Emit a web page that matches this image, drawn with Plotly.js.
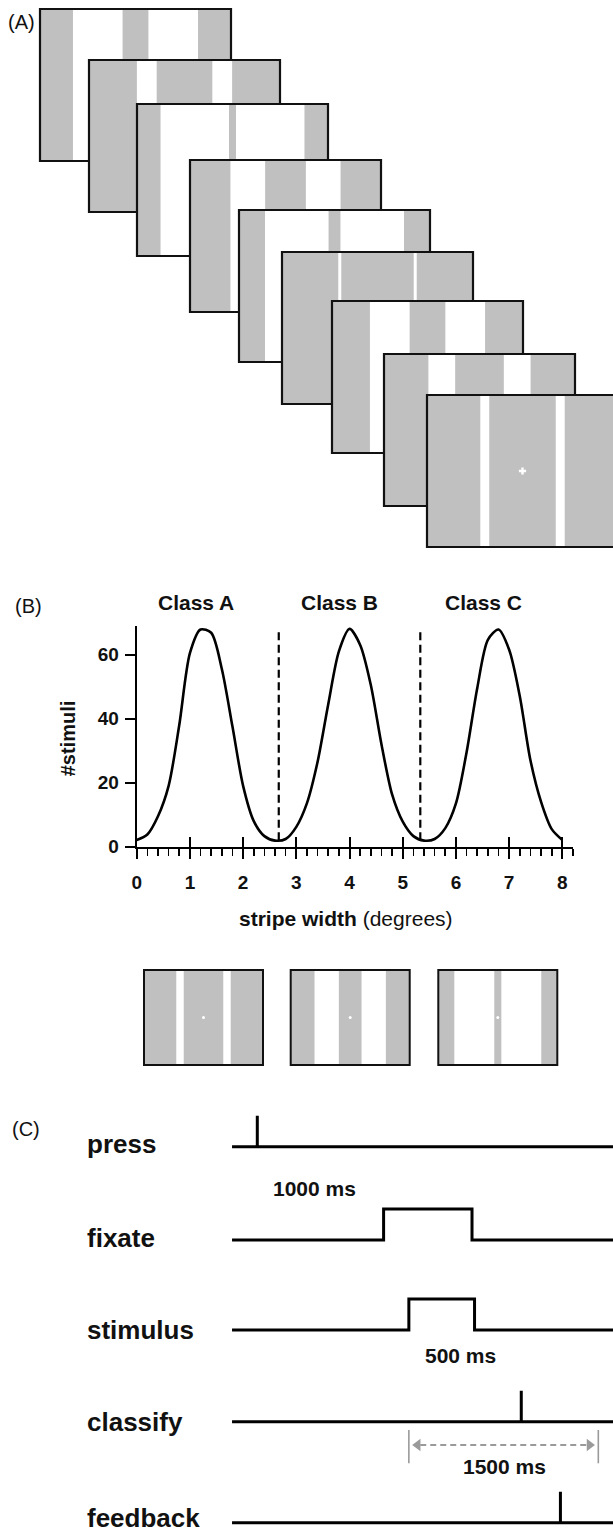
<!DOCTYPE html>
<html>
<head>
<meta charset="utf-8">
<script src="https://cdn.plot.ly/plotly-3.0.1.min.js"></script>
<style>
  html, body { margin: 0; padding: 0; background: #fff; }
  #chart { width: 613px; height: 1532px; }
</style>
</head>
<body>
<div id="chart"></div>
<script>
// ---------------- DATA ----------------
// Panel B: stimulus distribution
const stripeWidthDeg = [0, 0.2, 0.4, 0.6, 0.8, 1.0, 1.2, 1.4, 1.6, 1.8, 2.0, 2.2, 2.4, 2.6, 2.8,
  3.0, 3.2, 3.4, 3.6, 3.8, 4.0, 4.2, 4.4, 4.6, 4.8, 5.0, 5.2, 5.4, 5.6, 5.8,
  6.0, 6.2, 6.4, 6.6, 6.8, 7.0, 7.2, 7.4, 7.6, 7.8, 8.0];
const stimuliCount = [2.1, 3.8, 9.5, 19, 38, 60.4, 67.8, 66.8, 55.5, 37.5, 19, 8, 3.3, 1.9, 2.4,
  6.2, 13.6, 26.5, 44.5, 61, 68, 63, 50.5, 32, 16.3, 7.8, 3.3, 1.9, 2.4, 5.8,
  13.5, 29.5, 49.5, 64.6, 67.8, 61.5, 47, 27, 14, 5.5, 2.1];
const classNames = ['Class A', 'Class B', 'Class C'];
const classLabelX = [1.11, 3.82, 6.52];
const classBounds = [2.67, 5.33];
const boundaryTop = 67.2;
const boundaryBottom = 2;
const xTickVals = [0, 1, 2, 3, 4, 5, 6, 7, 8];
const yTickVals = [0, 20, 40, 60];

// Panel A: stripe width (deg) of each stimulus in the sequence
const sequenceStripeDeg = [2.74, 5.9, 0.74, 4.32, 1.26, 7.68, 3.79, 5.16, 7.05];
// example stimuli under panel B
const exampleStripeDeg = [6.73, 3.86, 1.2];

// Panel C: trial timeline (ms, press = 0)
const eventNames = ['press', 'fixate', 'stimulus', 'classify', 'feedback'];
const eventOnMs  = [0, 1000, 1200, 2090, 2400];
const eventOffMs = [0, 1700, 1720, 2090, 2400];
const durationLabels = ['1000 ms', '500 ms', '1500 ms'];
const durationLabelMs = [450, 1605, 1955];
const responseWindowMs = [1200, 2700];

// ---------------- LAYOUT CONSTANTS (pixels) ----------------
const W = 613, H = 1532;
const FONT = 'Liberation Sans, Arial, Helvetica, sans-serif';
const GRAY = '#c0c0c0';
const B_LEFT = 136.7, B_RIGHT = 573, B_TOP = 625.7, B_BOTTOM = 846.7;
const X_MAX = 8.2, Y_MAX = 69;
const FRAME_X = [40, 89, 137, 190, 239, 282, 332, 384, 427];
const FRAME_Y = [9, 60, 104, 160, 210, 252, 301, 354, 395];
const FRAME_W = 191, FRAME_H = 152;
const EX_X = [144, 290.7, 438.3], EX_Y = 970, EX_W = 119, EX_H = 95;
const PERIOD_FRAC = 0.395;          // grating period relative to frame width (= 8 deg)
const ROW_Y = [1146.7, 1240, 1330, 1421.7, 1522.7];
const ROW_LABEL_DY = [-3, -2, 0, 0, -5];
const PULSE_H = 31;
const T0_PX = 257.3, PX_PER_MS = 0.1263;
const T_START = -200, T_END = 3000;
const DUR_LABEL_Y = [1188, 1355, 1466.7];

const tMin = -T0_PX / PX_PER_MS;
const tMax = (W - T0_PX) / PX_PER_MS;

// ---------------- SHAPES: stimuli ----------------
const shapes = [];
function stimulus(x0, y0, w, h, deg, lw) {
  const P = PERIOD_FRAC * w;
  const g = deg / 8 * P;
  const wt = P - g;
  const cx = x0 + w / 2;
  shapes.push({type: 'rect', xref: 'x3', yref: 'y2', layer: 'below',
    x0: x0, x1: x0 + w, y0: y0, y1: y0 + h, fillcolor: GRAY, line: {width: 0}});
  [[cx - g / 2 - wt, cx - g / 2], [cx + g / 2, cx + g / 2 + wt]].forEach(s => {
    shapes.push({type: 'rect', xref: 'x3', yref: 'y2', layer: 'below',
      x0: Math.max(s[0], x0), x1: Math.min(s[1], x0 + w), y0: y0, y1: y0 + h,
      fillcolor: '#ffffff', line: {width: 0}});
  });
  shapes.push({type: 'rect', xref: 'x3', yref: 'y2', layer: 'below',
    x0: x0, x1: x0 + w, y0: y0, y1: y0 + h, fillcolor: 'rgba(0,0,0,0)',
    line: {color: '#111', width: lw}});
}
sequenceStripeDeg.forEach((d, i) => stimulus(FRAME_X[i], FRAME_Y[i], FRAME_W, FRAME_H, d, 2.2));
exampleStripeDeg.forEach((d, i) => stimulus(EX_X[i], EX_Y, EX_W, EX_H, d, 2));

const last = sequenceStripeDeg.length - 1;
const traces = [];
// fixation marks (only visible on top frame and examples)
traces.push({type: 'scatter', mode: 'markers', xaxis: 'x3', yaxis: 'y2', hoverinfo: 'skip',
  x: [FRAME_X[last] + FRAME_W / 2], y: [FRAME_Y[last] + FRAME_H / 2],
  marker: {symbol: 'cross', size: 6, color: '#ffffff', line: {width: 0}}, showlegend: false});
traces.push({type: 'scatter', mode: 'markers', xaxis: 'x3', yaxis: 'y2', hoverinfo: 'skip',
  x: EX_X.map(x => x + EX_W / 2), y: EX_X.map(() => EX_Y + EX_H / 2),
  marker: {symbol: 'circle', size: 3, color: '#ffffff', line: {width: 0}}, showlegend: false});

// ---------------- Panel B traces ----------------
traces.push({type: 'scatter', mode: 'lines', xaxis: 'x', yaxis: 'y',
  x: stripeWidthDeg, y: stimuliCount,
  line: {color: '#000', width: 2.6, shape: 'spline', smoothing: 0.8}, showlegend: false});
const bx = [], by = [];
classBounds.forEach(b => { bx.push(b, b, null); by.push(boundaryBottom, boundaryTop, null); });
traces.push({type: 'scatter', mode: 'lines', xaxis: 'x4', yaxis: 'y',
  x: bx, y: by, line: {color: '#000', width: 2.2, dash: '8px,4.5px'}, showlegend: false});

// ---------------- Panel C traces ----------------
eventNames.forEach((n, i) => {
  const b = ROW_Y[i];
  traces.push({type: 'scatter', mode: 'lines', xaxis: 'x2', yaxis: 'y2',
    x: [T_START, eventOnMs[i], eventOnMs[i], eventOffMs[i], eventOffMs[i], T_END],
    y: [b, b, b - PULSE_H, b - PULSE_H, b, b],
    line: {color: '#000', width: 3}, showlegend: false});
});
const cb = ROW_Y[3];
// response window brackets
traces.push({type: 'scatter', mode: 'lines', xaxis: 'x2', yaxis: 'y2',
  x: [responseWindowMs[0], responseWindowMs[0], null, responseWindowMs[1], responseWindowMs[1]],
  y: [cb + 8.3, cb + 41.6, null, cb + 8.3, cb + 41.6],
  line: {color: '#9a9a9a', width: 1.6}, showlegend: false});
const arrL = responseWindowMs[0] + 90, arrR = responseWindowMs[1] - 90;
traces.push({type: 'scatter', mode: 'lines', xaxis: 'x2', yaxis: 'y2',
  x: [arrL, arrR], y: [cb + 23.3, cb + 23.3],
  line: {color: '#9a9a9a', width: 2, dash: '6px,4px'}, showlegend: false});
traces.push({type: 'scatter', mode: 'markers', xaxis: 'x2', yaxis: 'y2',
  x: [arrL - 20, arrR + 20], y: [cb + 23.3, cb + 23.3],
  marker: {symbol: ['triangle-left', 'triangle-right'], size: 11, color: '#9a9a9a', line: {width: 0}},
  showlegend: false});

// ---------------- ANNOTATIONS ----------------
const ann = [];
function txt(text, x, y, size, opts) {
  ann.push(Object.assign({text: text, x: x, y: y, xref: 'x3', yref: 'y2', showarrow: false,
    xanchor: 'center', yanchor: 'middle', font: {family: FONT, size: size, color: '#111'}}, opts || {}));
}
txt('(A)', 6, 21.5, 20, {xanchor: 'left'});
txt('(B)', 12.7, 606, 20, {xanchor: 'left'});
txt('(C)', 10, 1129, 20, {xanchor: 'left'});
classNames.forEach((c, i) => txt('<b>' + c + '</b>', classLabelX[i], 602.5, 21, {xref: 'x'}));
txt('<b>stripe width</b> (degrees)', 346, 918, 21);
txt('<b>#stimuli</b>', 68.3, 738, 20, {textangle: -90});
eventNames.forEach((n, i) => txt('<b>' + n + '</b>', 85, ROW_Y[i] + ROW_LABEL_DY[i], 26, {xanchor: 'left'}));
durationLabels.forEach((d, i) => txt('<b>' + d + '</b>', durationLabelMs[i], DUR_LABEL_Y[i], 21, {xref: 'x2'}));

// ---------------- LAYOUT ----------------
const tickFont = {family: FONT, size: 19, color: '#111', weight: 'bold'};
const layout = {
  width: W, height: H,
  margin: {l: 0, r: 0, t: 0, b: 0, pad: 0},
  paper_bgcolor: '#ffffff', plot_bgcolor: 'rgba(0,0,0,0)',
  showlegend: false,
  xaxis: {domain: [B_LEFT / W, B_RIGHT / W], range: [0, X_MAX], anchor: 'y',
    showline: true, linecolor: '#000', linewidth: 2, showgrid: false, zeroline: false,
    ticks: 'outside', ticklen: 10, tickwidth: 2, tickcolor: '#000',
    tickmode: 'array', tickvals: xTickVals, ticktext: xTickVals.map(String),
    tickfont: tickFont, ticklabelstandoff: 7,
    minor: {dtick: 0.2, tick0: 0, ticks: 'outside', ticklen: 7, tickwidth: 1.6, tickcolor: '#000', showgrid: false}},
  xaxis4: {overlaying: 'x', anchor: 'y', range: [0, X_MAX], side: 'bottom',
    ticks: 'inside', ticklen: 10, tickwidth: 2, tickcolor: '#000',
    tickmode: 'array', tickvals: xTickVals, showticklabels: false,
    showline: false, showgrid: false, zeroline: false},
  yaxis: {domain: [1 - B_BOTTOM / H, 1 - B_TOP / H], range: [0, Y_MAX], anchor: 'x',
    showline: true, linecolor: '#000', linewidth: 2, showgrid: false, zeroline: false,
    ticks: 'outside', ticklen: 10, tickwidth: 2, tickcolor: '#000',
    tickmode: 'array', tickvals: yTickVals, ticktext: yTickVals.map(String),
    tickfont: tickFont, ticklabelstandoff: 2},
  xaxis2: {domain: [0, 1], range: [tMin, tMax], anchor: 'y2', visible: false,
    showgrid: false, zeroline: false, fixedrange: true},
  yaxis2: {domain: [0, 1], range: [H, 0], autorange: false, anchor: 'x2', visible: false,
    showgrid: false, zeroline: false, fixedrange: true},
  xaxis3: {domain: [0, 1], range: [0, W], anchor: 'y2', overlaying: 'x2', visible: false,
    showgrid: false, zeroline: false, fixedrange: true},
  shapes: shapes,
  annotations: ann
};

Plotly.newPlot('chart', traces, layout, {staticPlot: true, displayModeBar: false});
</script>
</body>
</html>
